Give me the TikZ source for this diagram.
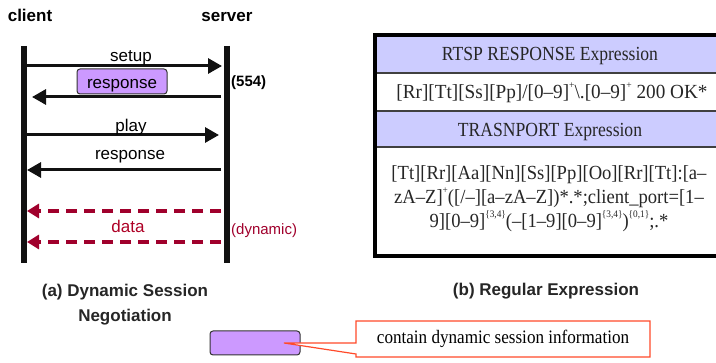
\documentclass[tikz,border=0pt]{standalone}
\usepackage{fontspec}
\setmainfont{Liberation Serif}
\setsansfont{Liberation Sans}
\usetikzlibrary{arrows.meta,calc}

\definecolor{hdrfill}{HTML}{CCCCFF}
\definecolor{infofill}{HTML}{CC99FF}
\definecolor{datared}{HTML}{A0002C}
\definecolor{callred}{HTML}{FF4A2A}
\definecolor{ink}{HTML}{111111}

% small raised text for the regex quantifiers
\newcommand\rxsup[1]{\raisebox{0.5em}{\fontsize{10}{10}\selectfont #1}}
% narrow setting for the table entries
\newcommand\narrow[2][0.86]{\scalebox{#1}[1]{#2}}

\begin{document}
\begin{tikzpicture}[x=1pt,y=-1pt,
  lifeline/.style={line width=6pt, ink},
  msg/.style={line width=3pt, ink, -{Triangle[length=14pt,width=15pt]}},
  datamsg/.style={line width=4pt, datared, dash pattern=on 11pt off 7pt,
                  -{Triangle[length=12pt,width=14pt]}},
  infobox/.style={draw=black!80, fill=infofill, rounded corners=3pt, line width=1pt},
  lbl/.style={font=\sffamily\fontsize{17}{20}\selectfont, inner sep=0pt, anchor=base},
  boldlbl/.style={font=\sffamily\bfseries\fontsize{17}{20}\selectfont, inner sep=0pt, anchor=base},
  cell/.style={font=\fontsize{20}{23.5}\selectfont, inner sep=0pt, text=black!85, anchor=base},
]
\useasboundingbox (0,0) rectangle (716,363);

% ---------- (a) sequence diagram ----------
\node[boldlbl] (client) at (30,22) {client};
\node[boldlbl] (server) at (227,22) {server};

\coordinate (cltop) at (24,46);
\coordinate (clbot) at (24,263);
\coordinate (svtop) at (227,46);
\coordinate (svbot) at (227,263);
\draw[lifeline] (cltop) -- (clbot);
\draw[lifeline] (svtop) -- (svbot);

% message end points on the two lifelines
\coordinate (c1) at (27,66);  \coordinate (s1) at (222,66);
\coordinate (s2) at (221,97); \coordinate (c2) at (32,97);
\coordinate (c3) at (27,135); \coordinate (s3) at (219,135);
\coordinate (s4) at (221,170);\coordinate (c4) at (27,170);
\coordinate (s5) at (221,211);\coordinate (c5) at (27,211);
\coordinate (s6) at (221,242);\coordinate (c6) at (27,242);

\draw[msg] (c1) -- (s1);
\node[lbl] (setup) at (131,62) {setup};

\node[infobox, minimum width=90pt, minimum height=25pt, inner sep=0pt] (rspbox) at (122,81.5) {};
\node[lbl] (rsp1) at (122,89) {response};
\draw[msg] (s2) -- (c2);
\node[boldlbl, anchor=base west, font=\sffamily\bfseries\fontsize{15}{18}\selectfont] (port) at (231,87) {(554)};

\draw[msg] (c3) -- (s3);
\node[lbl] (play) at (131,132) {play};

\node[lbl] (rsp2) at (130,160) {response};
\draw[msg] (s4) -- (c4);

\draw[datamsg] (s5) -- (c5);
\draw[datamsg] (s6) -- (c6);
\node[lbl, text=datared!85!red] (data) at (128,233) {data};
\node[lbl, anchor=base west, text=datared, font=\sffamily\fontsize{15}{18}\selectfont] (dyn) at (231,235) {(dynamic)};

\node[boldlbl, text=black!85] (capa1) at (125,297) {(a) Dynamic Session};
\node[boldlbl, text=black!85] (capa2) at (125,322) {Negotiation};

% ---------- (b) expression table ----------
\fill[hdrfill] (375,35) rectangle (730,73);
\fill[white]   (375,73) rectangle (730,111);
\fill[hdrfill] (375,111) rectangle (730,147);
\fill[white]   (375,147) rectangle (730,256);
\draw[line width=1.5pt, black!75] (375,73) -- (730,73);
\draw[line width=1.5pt, black!75] (375,111) -- (730,111);
\draw[line width=1.5pt, black!75] (375,147) -- (730,147);
\draw[line width=4pt] (730,35) -- (375,35) -- (375,256) -- (730,256);

\node[cell] (rtsphdr) at (550,61) {\narrow[0.88]{RTSP RESPONSE Expression}};
\node[cell] (rtspexp) at (552,99) {\narrow[0.96]{[Rr][Tt][Ss][Pp]/[0–9]\rxsup{+}\textbackslash.[0–9]\rxsup{+} 200 OK*}};
\node[cell] (trhdr) at (550,137) {\narrow[0.88]{TRASNPORT Expression}};
\node[cell, anchor=center] (trexp) at (549,199)
  {\narrow[0.93]{\begin{tabular}{@{}c@{}}
   [Tt][Rr][Aa][Nn][Ss][Pp][Oo][Rr][Tt]:[a–\\
   zA–Z]\rxsup{+}([/–][a–zA–Z])*.*;client\_port=[1–\\
   9][0–9]\rxsup{\{3,4\}}(–[1–9][0–9]\rxsup{\{3,4\}})\rxsup{\{0,1\}};.*
   \end{tabular}}};

\node[boldlbl, text=black!85] (capb) at (546,296) {(b) Regular Expression};

% ---------- legend ----------
\node[infobox, minimum width=90pt, minimum height=24pt, inner sep=0pt] (legend) at (255,343) {};
\coordinate (tip) at ($(legend.center)+(29,0)$);
\coordinate (note) at (503,339);
\filldraw[fill=white, draw=callred, line width=1.2pt]
  ($(note)+(-147,-18)$) -- ($(note)+(147,-18)$) -- ($(note)+(147,18)$) -- ($(note)+(-147,18)$)
  -- ($(note)+(-147,15)$) -- (tip) -- ($(note)+(-147,4)$) -- cycle;
\node[inner sep=0pt, font=\fontsize{19}{20}\selectfont] (notetext) at (note)
  {\scalebox{0.9}[1]{contain dynamic session information}};
\end{tikzpicture}
\end{document}
